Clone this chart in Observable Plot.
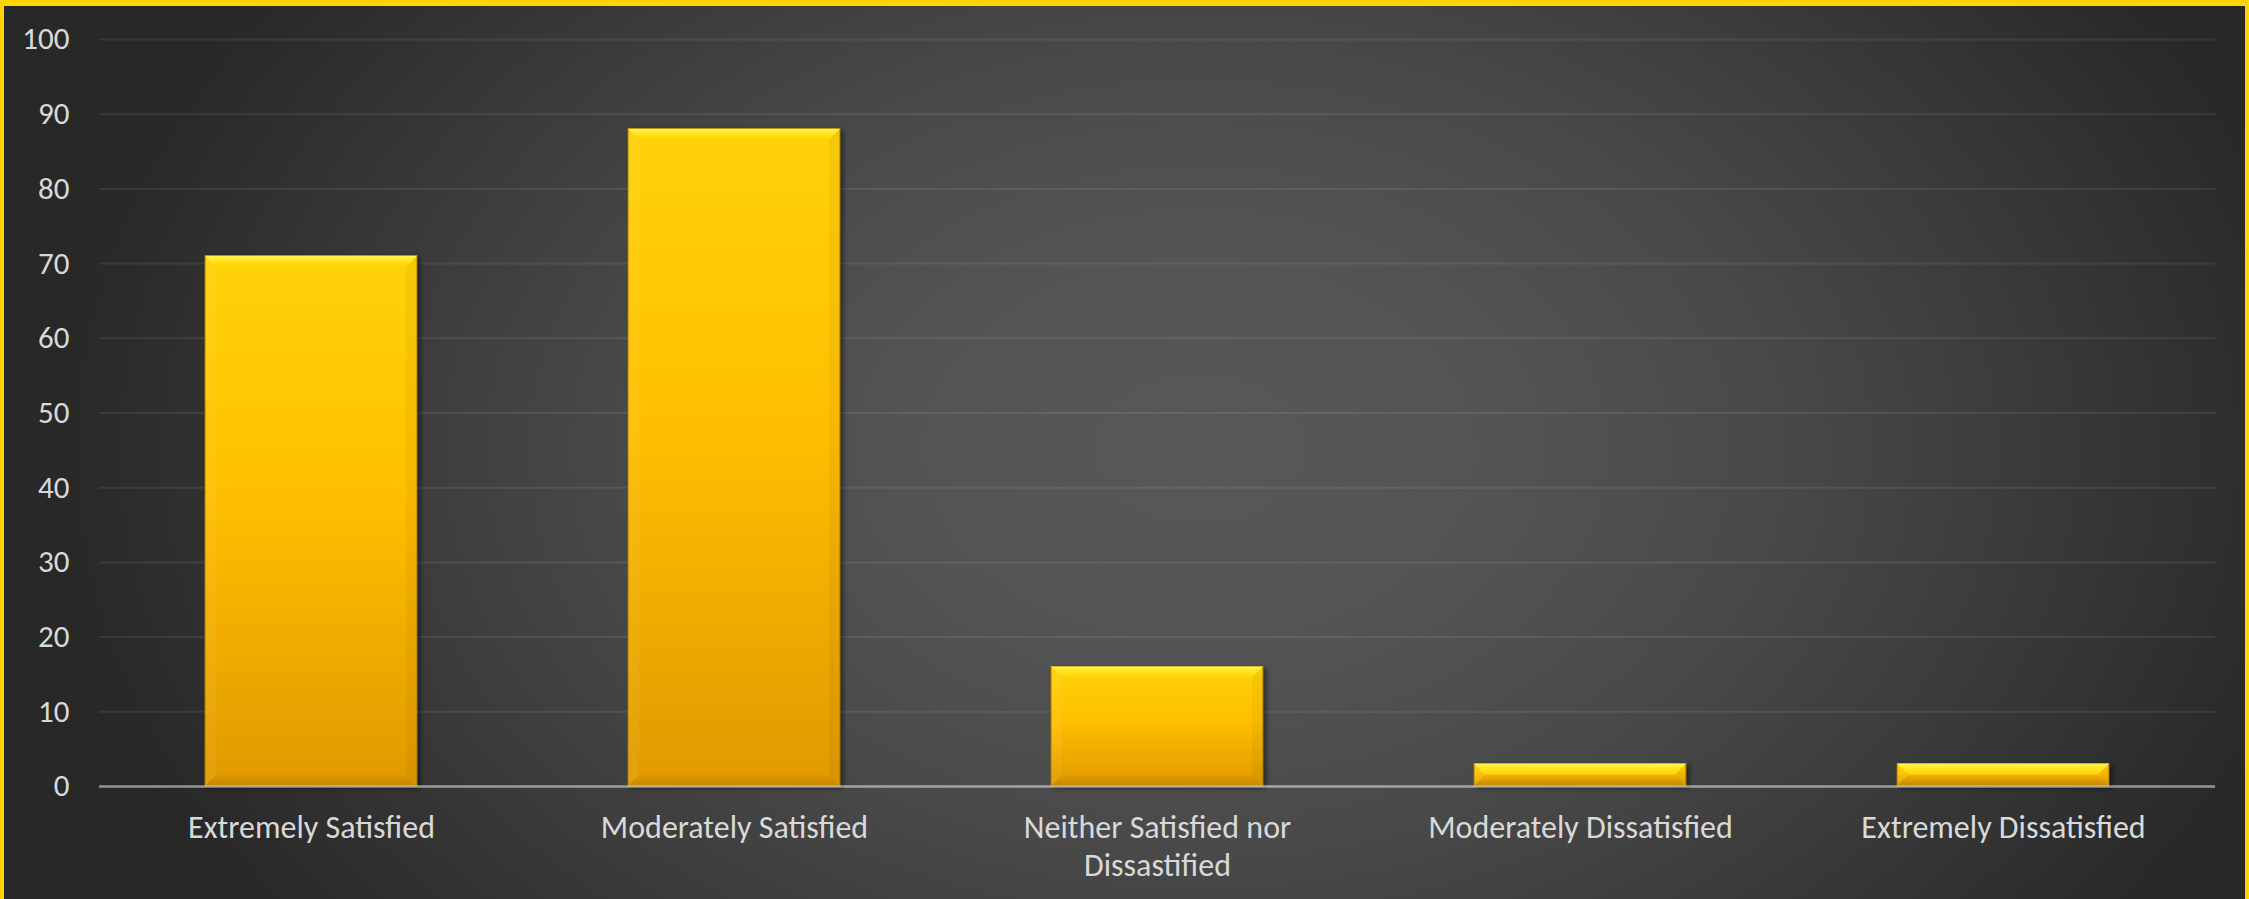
<!DOCTYPE html>
<html><head><meta charset="utf-8">
<script src="https://cdn.jsdelivr.net/npm/d3@7"></script>
<script src="https://cdn.jsdelivr.net/npm/@observablehq/plot@0.6"></script>
<style>
html,body{margin:0;padding:0;background:#2a2a2a;}
#chart{position:relative;width:2249px;height:899px;overflow:hidden;
 background: radial-gradient(1150px 800px at 1200px 450px, #585858 0%, #545454 25%, #494949 50%, #3c3c3c 70%, #2d2d2d 92%, #282828 100%);
 box-shadow: inset 4px 6px 0 0 #FFD500, inset -4px 0 0 0 #FFD500;}
#chart svg{position:absolute;left:0;top:0;}
</style>
</head><body><div id="chart"></div>
<script>
const categories = ["Extremely Satisfied", "Moderately Satisfied", "Neither Satisfied nor Dissastified", "Moderately Dissatisfied", "Extremely Dissatisfied"];
const values = [71, 88, 16, 3, 3];
const tickLabels = ["Extremely Satisfied", "Moderately Satisfied", "Neither Satisfied nor\nDissastified", "Moderately Dissatisfied", "Extremely Dissatisfied"];
const yTicks = [0, 10, 20, 30, 40, 50, 60, 70, 80, 90, 100];

const data = categories.map((c, i) => ({category: c, value: values[i]}));
const font = "Carlito, Calibri, Lato, sans-serif";

const plot = Plot.plot({
  width: 2249, height: 899,
  marginLeft: 99, marginRight: 34, marginTop: 39, marginBottom: 113,
  style: {background: "transparent", fontFamily: font, fontSize: "32px", color: "#d9d9d9", overflow: "visible"},
  x: {domain: categories, paddingInner: 0.5, paddingOuter: 0.25, label: null},
  y: {domain: [0, 100], label: null},
  marks: [
    Plot.gridY(yTicks.filter(t => t > 0), {stroke: "white", strokeOpacity: 0.08, strokeWidth: 2}),
    Plot.barY(data, {x: "category", y: "value", fill: "url(#barGrad)", stroke: "#a07800", strokeWidth: 1}),
    Plot.ruleY([0], {stroke: "white", strokeOpacity: 0.5, strokeWidth: 2.5}),
    Plot.axisY({ticks: yTicks, tickSize: 0, tickPadding: 30, fill: "#d9d9d9", fontSize: 31, label: null}),
    Plot.axisX({tickSize: 0, tickPadding: 24, tickFormat: d => tickLabels[categories.indexOf(d)], lineHeight: 1.2, fill: "#d9d9d9", fontSize: 32, label: null})
  ]
});

const svg = d3.select(plot);
const defs = svg.insert("defs", ":first-child");
function grad(id, stops) {
  const g = defs.append("linearGradient").attr("id", id).attr("x1", 0).attr("y1", 0).attr("x2", 0).attr("y2", 1);
  stops.forEach(([o, c, op]) => g.append("stop").attr("offset", o).attr("stop-color", c).attr("stop-opacity", op == null ? 1 : op));
}
grad("barGrad", [[0, "#FFD209"], [0.45, "#FFBF00"], [1, "#E09A00"]]);
grad("bevTop", [[0, "#FFF55A"], [0.3, "#FFEA2A"], [1, "#FFD200"]]);
grad("bevBot", [[0, "#C98A00", 0.2], [1, "#A87200", 0.5]]);

const barG = svg.select('g[aria-label="bar"]');
barG.style("filter", "drop-shadow(3px 2px 2px rgba(0,0,0,0.45))");
const bev = document.createElementNS("http://www.w3.org/2000/svg", "g");
barG.node().parentNode.insertBefore(bev, barG.node().nextSibling);
const bevSel = d3.select(bev);
barG.selectAll("rect").each(function() {
  const r = d3.select(this);
  const x = +r.attr("x"), y = +r.attr("y"), w = +r.attr("width"), h = +r.attr("height");
  const b = Math.min(11, h / 2, w / 2);
  const poly = (pts, fill, op) => bevSel.append("polygon").attr("points", pts.map(p => p.join(",")).join(" ")).attr("fill", fill).attr("fill-opacity", op);
  poly([[x, y], [x + w, y], [x + w - b, y + b], [x + b, y + b]], "url(#bevTop)", 1);
  poly([[x, y], [x + b, y + b], [x + b, y + h - b], [x, y + h]], "white", 0.05);
  poly([[x + w, y], [x + w - b, y + b], [x + w - b, y + h - b], [x + w, y + h]], "black", 0.04);
  poly([[x, y + h], [x + b, y + h - b], [x + w - b, y + h - b], [x + w, y + h]], "url(#bevBot)", 1);
});

document.getElementById("chart").appendChild(plot);
</script>
</body></html>
